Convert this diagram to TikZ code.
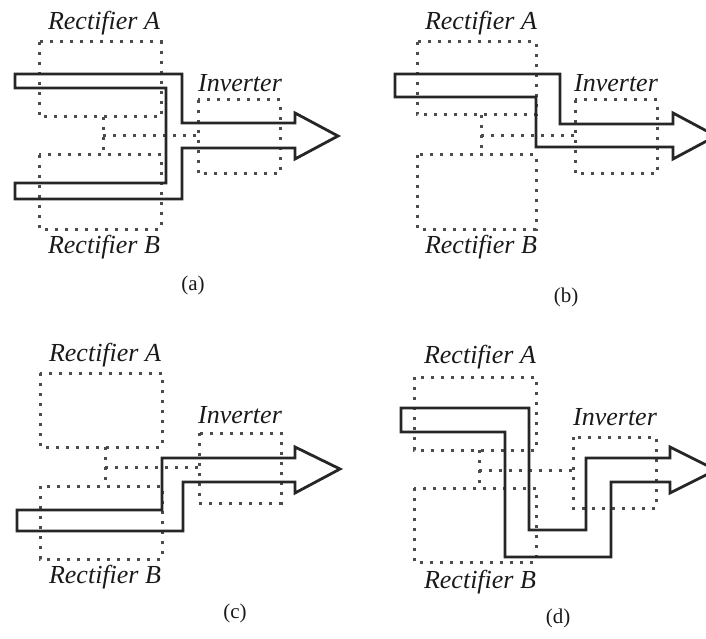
\documentclass[tikz,border=0pt]{standalone}
\usepackage{fontspec}
\setmainfont{Liberation Serif}
\begin{document}
\begin{tikzpicture}[x=1pt,y=-1pt,
  dotbox/.style={draw=black!70, line width=3pt, dash pattern=on 3pt off 7pt, line cap=butt},
  dotline/.style={draw=black!70, line width=3pt, dash pattern=on 3pt off 7pt},
  flow/.style={draw=black!85, line width=2.8pt, line join=miter},
  lab/.style={font=\fontsize{26}{29}\selectfont\itshape, text=black!90, inner sep=0pt},
  captext/.style={font=\fontsize{21}{24}\selectfont, text=black!90, inner sep=0pt}]
\useasboundingbox (0,0) rectangle (706,639);
\clip (0,0) rectangle (706,639);
% ---------- (a)
\draw[dotbox] (39,42) rectangle (161,117);
\draw[dotbox] (39,155) rectangle (161,229);
\draw[dotbox] (198,100) rectangle (280,174);
\coordinate (am1) at (103,117); \coordinate (am2) at (103,155);
\coordinate (am3) at (103,136); \coordinate (am4) at (198,136);
\draw[dotline] (am1) -- (am2);
\draw[dotline] (am3) -- (am4);
\draw[flow] (15,74) -- (182,74) -- (182,123) -- (295,123) -- (295,113) -- (338,136) -- (295,159) -- (295,148) -- (182,148) -- (182,199) -- (15,199) -- (15,183) -- (166,183) -- (166,88) -- (15,88) -- cycle;
\node[lab] (ara) at (104,23) {Rectifier A};
\node[lab] (arb) at (104,247) {Rectifier B};
\node[lab] (ainv) at (240,83) {Inverter};
\node[captext] (acap) at (193,285) {(a)};
% ---------- (b)
\draw[dotbox] (417,42) rectangle (536,115);
\draw[dotbox] (417,155) rectangle (536,229);
\draw[dotbox] (575,100) rectangle (657,174);
\coordinate (bm1) at (481,115); \coordinate (bm2) at (481,155);
\coordinate (bm3) at (481,136); \coordinate (bm4) at (575,136);
\draw[dotline] (bm1) -- (bm2);
\draw[dotline] (bm3) -- (bm4);
\draw[flow] (395,74) -- (560,74) -- (560,124) -- (673,124) -- (673,113) -- (716,136) -- (673,159) -- (673,147) -- (536,147) -- (536,97) -- (395,97) -- cycle;
\node[lab] (bra) at (481,23) {Rectifier A};
\node[lab] (brb) at (481,247) {Rectifier B};
\node[lab] (binv) at (616,83) {Inverter};
\node[captext] (bcap) at (566,297) {(b)};
% ---------- (c)
\draw[dotbox] (40,373) rectangle (162,447);
\draw[dotbox] (40,486) rectangle (162,559);
\draw[dotbox] (199,433) rectangle (281,503);
\coordinate (cm1) at (105,447); \coordinate (cm2) at (105,486);
\coordinate (cm3) at (105,467); \coordinate (cm4) at (199,467);
\draw[dotline] (cm1) -- (cm2);
\draw[dotline] (cm3) -- (cm4);
\draw[flow] (17,510) -- (162,510) -- (162,458) -- (295,458) -- (295,447) -- (340,469) -- (295,493) -- (295,482) -- (183,482) -- (183,531) -- (17,531) -- cycle;
\node[lab] (cra) at (105,355) {Rectifier A};
\node[lab] (crb) at (105,577) {Rectifier B};
\node[lab] (cinv) at (240,415) {Inverter};
\node[captext] (ccap) at (235,613) {(c)};
% ---------- (d)
\draw[dotbox] (414,377) rectangle (536,450);
\draw[dotbox] (414,488) rectangle (536,562);
\draw[dotbox] (573,437) rectangle (656,508);
\coordinate (dm1) at (479,450); \coordinate (dm2) at (479,488);
\coordinate (dm3) at (479,470); \coordinate (dm4) at (573,470);
\draw[dotline] (dm1) -- (dm2);
\draw[dotline] (dm3) -- (dm4);
\draw[flow] (401,408) -- (529,408) -- (529,530) -- (586,530) -- (586,458) -- (670,458) -- (670,447) -- (716,470) -- (670,493) -- (670,482) -- (611,482) -- (611,557) -- (505,557) -- (505,432) -- (401,432) -- cycle;
\node[lab] (dra) at (480,357) {Rectifier A};
\node[lab] (drb) at (480,582) {Rectifier B};
\node[lab] (dinv) at (615,417) {Inverter};
\node[captext] (dcap) at (558,618) {(d)};
\end{tikzpicture}
\end{document}
